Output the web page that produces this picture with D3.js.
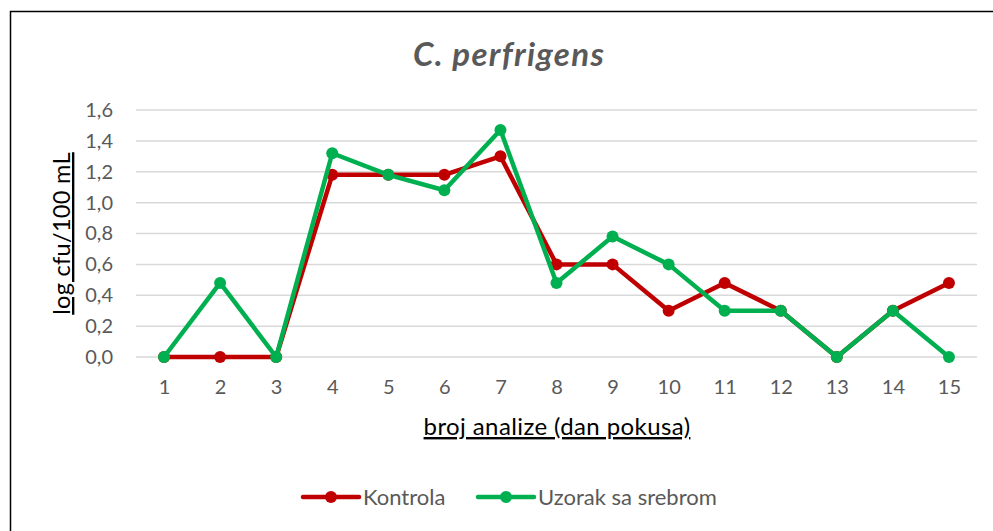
<!DOCTYPE html>
<html>
<head>
<meta charset="utf-8">
<script src="https://cdn.jsdelivr.net/npm/d3@7"></script>
<style>
  body { margin: 0; background: #fff; }
  text { font-family: Lato, "Open Sans", sans-serif; }
</style>
</head>
<body>
<div id="chart"></div>
<script>
// data
const days = ["1","2","3","4","5","6","7","8","9","10","11","12","13","14","15"]
const kontrola = [0, 0, 0, 1.18, 1.18, 1.18, 1.30, 0.60, 0.60, 0.30, 0.48, 0.30, 0, 0.30, 0.48]
const uzorak   = [0, 0.48, 0, 1.32, 1.18, 1.08, 1.47, 0.48, 0.78, 0.60, 0.30, 0.30, 0, 0.30, 0]
const yTicks = [0, 0.2, 0.4, 0.6, 0.8, 1.0, 1.2, 1.4, 1.6]
const seriesNames = ["Kontrola", "Uzorak sa srebrom"]
const colors = ["#C00000", "#00B050"]

const W = 993, H = 531
const margin = {top: 110, right: 16, bottom: 174, left: 136}

const svg = d3.select("#chart").append("svg")
    .attr("width", W)
    .attr("height", H)

// chart frame (runs off the right and bottom edges)
svg.append("rect")
    .attr("x", 10.5).attr("y", 11.5)
    .attr("width", 1000).attr("height", 600)
    .attr("fill", "none")
    .attr("stroke", "#000")
    .attr("stroke-width", 1.5)

const x = d3.scalePoint()
    .domain(days)
    .range([margin.left, W - margin.right])
    .padding(0.5)

const y = d3.scaleLinear()
    .domain([0, 1.6])
    .range([H - margin.bottom, margin.top])

const fmt = d => d3.format(".1f")(d).replace(".", ",")

// gridlines
svg.append("g")
    .selectAll("line")
    .data(yTicks)
    .join("line")
    .attr("x1", margin.left)
    .attr("x2", W - margin.right)
    .attr("y1", d => y(d))
    .attr("y2", d => y(d))
    .attr("stroke", "#d9d9d9")
    .attr("stroke-width", 1.5)

// y axis labels
const yAxis = svg.append("g")
    .attr("transform", `translate(${margin.left - 20},0)`)
    .call(d3.axisLeft(y).tickValues(yTicks).tickFormat(fmt).tickSize(0))
yAxis.select(".domain").remove()
yAxis.selectAll("text")
    .attr("fill", "#595959")
    .style("font-size", "20px")

// x axis labels
const xAxis = svg.append("g")
    .attr("transform", `translate(0,${y(0) + 20})`)
    .call(d3.axisBottom(x).tickSize(0))
xAxis.select(".domain").remove()
xAxis.selectAll("text")
    .attr("fill", "#595959")
    .style("font-size", "20px")

// title
svg.append("text")
    .attr("x", 509).attr("y", 66)
    .attr("text-anchor", "middle")
    .attr("fill", "#595959")
    .style("font-size", "33px")
    .style("letter-spacing", "1.3px")
    .style("font-weight", "bold")
    .style("font-style", "italic")
    .text("C. perfrigens")

// axis titles
svg.append("text")
    .attr("transform", `translate(70,${(y(0) + y(1.6)) / 2}) rotate(-90)`)
    .attr("text-anchor", "middle")
    .attr("fill", "#000")
    .style("font-size", "23.5px")
    .style("letter-spacing", "0.3px")
    .style("text-decoration", "underline")
    .text("log cfu/100 mL")

svg.append("text")
    .attr("x", 557)
    .attr("y", 435)
    .attr("text-anchor", "middle")
    .attr("fill", "#000")
    .style("font-size", "24px")
    .style("letter-spacing", "0.4px")
    .style("text-decoration", "underline")
    .text("broj analize (dan pokusa)")

// lines + markers
const series = [kontrola, uzorak]
const line = d3.line()
    .x((d, i) => x(days[i]))
    .y(d => y(d))

series.forEach((vals, s) => {
    svg.append("path")
        .datum(vals)
        .attr("d", line)
        .attr("fill", "none")
        .attr("stroke", colors[s])
        .attr("stroke-width", 4.5)
        .attr("stroke-linejoin", "round")

    svg.append("g")
        .selectAll("circle")
        .data(vals)
        .join("circle")
        .attr("cx", (d, i) => x(days[i]))
        .attr("cy", d => y(d))
        .attr("r", 6)
        .attr("fill", colors[s])
})

// legend
const legendX = [303, 478]
const legend = svg.append("g")
    .selectAll("g")
    .data(seriesNames)
    .join("g")
    .attr("transform", (d, i) => `translate(${legendX[i]},497)`)

legend.append("line")
    .attr("x1", 0).attr("x2", 56)
    .attr("stroke", (d, i) => colors[i])
    .attr("stroke-width", 4.5)
    .attr("stroke-linecap", "round")
legend.append("circle")
    .attr("cx", 28)
    .attr("r", 6)
    .attr("fill", (d, i) => colors[i])
legend.append("text")
    .attr("x", 60)
    .attr("dy", "0.35em")
    .attr("fill", "#595959")
    .style("font-size", "22px")
    .text(d => d)
</script>
</body>
</html>
